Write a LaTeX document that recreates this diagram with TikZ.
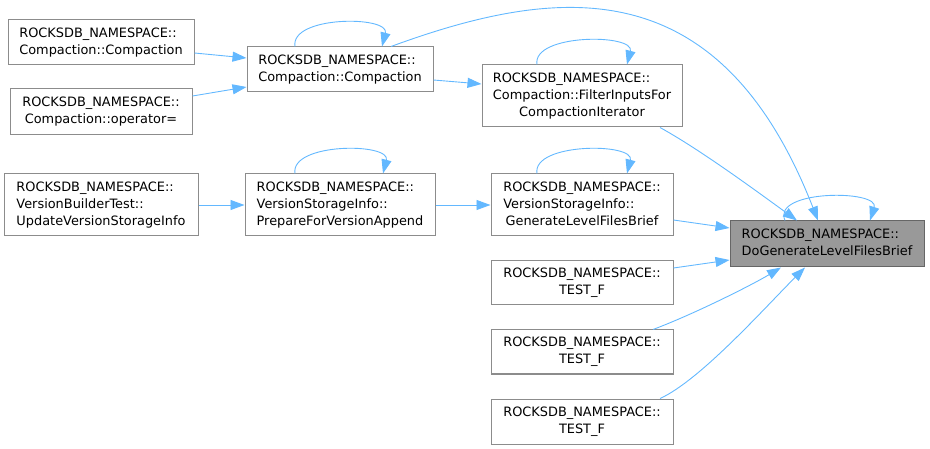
\documentclass[tikz,border=0pt]{standalone}
\usepackage{fontspec}
\setmainfont{DejaVu Sans}
\usetikzlibrary{arrows.meta}
\definecolor{edgec}{HTML}{63B8FF}
\definecolor{bordc}{HTML}{8C8C8C}
\definecolor{hfill}{HTML}{999999}
\definecolor{hbord}{HTML}{666666}
\begin{document}
\begin{tikzpicture}[x=1pt,y=-1pt,
  box/.style={draw=bordc, line width=1pt, fill=white, inner sep=0pt,
    font=\fontsize{12.9}{16.7}\selectfont},
  cur/.style={box, draw=hbord, fill=hfill},
  edge/.style={draw=edgec, line width=0.9pt, -{Triangle[length=14pt,width=10pt]}},
]
\useasboundingbox (0,0) rectangle (930,449);

\node[box, minimum width=186pt, minimum height=45pt] (A) at (101,42.5)
  {\begin{tabular}{@{}l@{}}ROCKSDB\_NAMESPACE::\\Compaction::Compaction\end{tabular}};
\node[box, minimum width=182pt, minimum height=46pt] (B) at (101,112)
  {\begin{tabular}{@{}l@{}}ROCKSDB\_NAMESPACE::\\\multicolumn{1}{@{}c@{}}{Compaction::operator=}\end{tabular}};
\node[box, minimum width=186pt, minimum height=45pt] (C) at (340,69.5)
  {\begin{tabular}{@{}l@{}}ROCKSDB\_NAMESPACE::\\Compaction::Compaction\end{tabular}};
\node[box, minimum width=200pt, minimum height=62pt] (D) at (582,96)
  {\begin{tabular}{@{}l@{}}ROCKSDB\_NAMESPACE::\\Compaction::FilterInputsFor\\\multicolumn{1}{@{}c@{}}{CompactionIterator}\end{tabular}};
\node[box, minimum width=194pt, minimum height=62pt] (E) at (101,205)
  {\begin{tabular}{@{}l@{}}ROCKSDB\_NAMESPACE::\\VersionBuilderTest::\\UpdateVersionStorageInfo\end{tabular}};
\node[box, minimum width=190pt, minimum height=62pt] (F) at (340,205)
  {\begin{tabular}{@{}l@{}}ROCKSDB\_NAMESPACE::\\VersionStorageInfo::\\PrepareForVersionAppend\end{tabular}};
\node[box, minimum width=182pt, minimum height=62pt] (G) at (582,205)
  {\begin{tabular}{@{}l@{}}ROCKSDB\_NAMESPACE::\\VersionStorageInfo::\\\multicolumn{1}{@{}c@{}}{GenerateLevelFilesBrief}\end{tabular}};
\node[cur, minimum width=194pt, minimum height=46pt] (H) at (827,244)
  {\begin{tabular}{@{}l@{}}ROCKSDB\_NAMESPACE::\\DoGenerateLevelFilesBrief\end{tabular}};
\node[box, minimum width=182pt, minimum height=44pt] (T1) at (582,283)
  {\begin{tabular}{@{}c@{}}ROCKSDB\_NAMESPACE::\\TEST\_F\end{tabular}};
\node[box, minimum width=182pt, minimum height=44pt] (T2) at (582,352)
  {\begin{tabular}{@{}c@{}}ROCKSDB\_NAMESPACE::\\TEST\_F\end{tabular}};
\node[box, minimum width=182pt, minimum height=45pt] (T3) at (582,421.5)
  {\begin{tabular}{@{}c@{}}ROCKSDB\_NAMESPACE::\\TEST\_F\end{tabular}};

% edges
\draw[edge] ([yshift=-10.5]A.east) -- ([yshift=11.5]C.west);
\draw[edge] ([yshift=16]B.east) -- ([yshift=-17.5]C.west);
\draw[edge] ([xshift=-45]C.north) .. controls +(-5,-31) and +(8,-31) .. ([xshift=42]C.north);
\draw[edge] ([xshift=51]C.north) .. controls +(169,-62) and +(-98,-251) .. ([xshift=-9]H.north);
\draw[edge] ([yshift=-10.5]C.east) -- ([yshift=12]D.west);
\draw[edge] ([xshift=-45]D.north) .. controls +(-5,-31) and +(8,-31) .. ([xshift=45]D.north);
\draw[edge] ([xshift=78]D.south) .. controls +(40,22) and +(-40,-29) .. ([xshift=-30]H.north);
\draw[edge] (E.east) -- (F.west);
\draw[edge] ([xshift=-45]F.north) .. controls +(-5,-31) and +(8,-31) .. ([xshift=43]F.north);
\draw[edge] (F.east) -- (G.west);
\draw[edge] ([xshift=-45]G.north) .. controls +(-5,-31) and +(8,-31) .. ([xshift=45]G.north);
\draw[edge] ([yshift=-15]G.east) -- ([yshift=16]H.west);
\draw[edge] ([xshift=-42]H.north) .. controls +(-14,-31) and +(10,-31) .. ([xshift=43]H.north);
\draw[edge] ([yshift=15]T1.east) -- ([yshift=-16]H.west);
\draw[edge] ([xshift=71]T2.north) .. controls +(40,-15) and +(-30,18) .. ([xshift=-46]H.south);
\draw[edge] ([xshift=78]T3.north) .. controls +(40,-18) and +(-40,40) .. ([xshift=-22]H.south);
\end{tikzpicture}
\end{document}
